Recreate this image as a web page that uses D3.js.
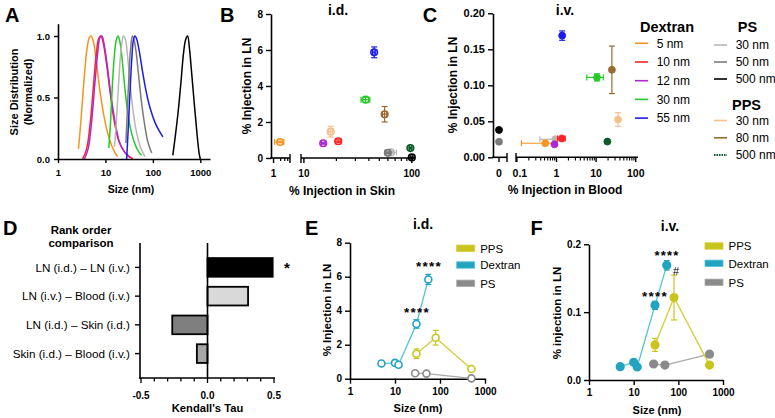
<!DOCTYPE html>
<html><head><meta charset="utf-8">
<script src="https://cdn.jsdelivr.net/npm/d3@7"></script>
<style>
body{margin:0;background:#fff;}
svg{font-family:"Liberation Sans",Arial,Helvetica,sans-serif;}
</style></head><body>
<svg id="chart" width="775" height="418"></svg>
<script>
// ================= DATA =================
// Panel A: size distributions (normalized)
const distNames = ["Dextran 5 nm","Dextran 10 nm","Dextran 12 nm","Dextran 30 nm","PS 30 nm","PS 50 nm","Dextran 55 nm","PS 500 nm"];
const distSizes = [
  [2.7,3.1,3.6,4.1,4.6,5.0,5.6,6.4,7.5,9,11,13.5,16,18],
  [3.3,4,4.8,5.6,6.4,7.2,8,9,10.5,12.5,15,19,25,32,38],
  [3.6,4.3,5.1,6,6.9,7.7,8.4,9.4,11,13,16,20,26,33],
  [11.8,12.8,14,15.5,17,18.5,20,22,25,29,35,43,52,58],
  [15.5,17,19,21.5,24,26.5,29,33,38,45,54,62,68],
  [27,29,31.5,34,37,40,44,50,58,67,77,88,95],
  [28,30,33,36,39,42,46,52,60,72,88,110,135,163],
  [263,300,340,390,440,490,540,590,650,720,800,880,950,1000]
];
const distValues = [
  [0.08,0.35,0.68,0.9,0.99,1.0,0.95,0.8,0.58,0.38,0.22,0.11,0.05,0.02],
  [0,0.08,0.3,0.6,0.85,0.98,1.0,0.94,0.78,0.55,0.33,0.15,0.06,0.02,0],
  [0,0.08,0.3,0.62,0.87,0.99,1.0,0.93,0.75,0.52,0.3,0.13,0.05,0.01],
  [0.09,0.3,0.6,0.85,0.97,1.0,0.96,0.85,0.62,0.4,0.22,0.11,0.05,0.03],
  [0.1,0.3,0.62,0.9,1.0,0.97,0.85,0.62,0.4,0.22,0.1,0.05,0.02],
  [0.13,0.4,0.7,0.9,1.0,0.97,0.88,0.68,0.45,0.28,0.15,0.08,0.05],
  [0,0.22,0.55,0.82,0.97,1.0,0.97,0.87,0.72,0.55,0.41,0.3,0.23,0.18],
  [0.03,0.2,0.38,0.62,0.85,0.97,1.0,0.9,0.72,0.52,0.32,0.15,0.04,0]
];
const sizeTicks = [1,10,100,1000];
const distTicks = [0,0.5,1.0];

// Panels B & C: series (order: Dextran 5,10,12,30,55 | PS 30,50,500 | PPS 30,80,500)
const seriesNames = ["Dextran 5 nm","Dextran 10 nm","Dextran 12 nm","Dextran 30 nm","Dextran 55 nm",
                     "PS 30 nm","PS 50 nm","PS 500 nm","PPS 30 nm","PPS 80 nm","PPS 500 nm"];
const skinID    = [1.9, 20.8, 15.1, 37.3, 44.8, 64, 60, 100, 17.7, 56, 97];
const skinIDErr = [0.8, 1.2, 0.6, 3.5, 1.5, 8, 2, 2, 0.8, 2.5, 2];
const lnID      = [0.89, 0.93, 0.82, 3.24, 5.87, 0.31, 0.29, 0.03, 1.46, 2.43, 0.55];
const lnIDErr   = [0.05, 0.08, 0.05, 0.15, 0.3, 0.05, 0.04, 0.02, 0.3, 0.43, 0.05];
const bloodIV    = [0.52, 1.36, 0.89, 10.5, 1.39, 0.93, 0, 0, 35.7, 25, 19.2];
const bloodIVErr = [0.39, 0.3, 0.05, 4.7, 0.12, 0.55, 0, 0, 1.5, 1.5, 1];
const lnIV      = [0.0195, 0.0262, 0.0180, 0.111, 0.169, 0.0250, 0.0217, 0.0380, 0.0525, 0.1215, 0.0218];
const lnIVErr   = [0.001, 0.002, 0.001, 0.005, 0.0065, 0.002, 0.001, 0.002, 0.0095, 0.033, 0.001];
const lnIDTicks = [0,2,4,6,8];
const lnIVTicks = [0,0.05,0.10,0.15,0.20];
const legendGroups = ["Dextran","PS","PPS"];
const legendDextran = ["5 nm","10 nm","12 nm","30 nm","55 nm"];
const legendPS = ["30 nm","50 nm","500 nm"];
const legendPPS = ["30 nm","80 nm","500 nm"];

// Panel D: Kendall's tau
const comparisons = ["LN (i.d.) \u2013 LN (i.v.)","LN (i.v.) \u2013 Blood (i.v.)","LN (i.d.) \u2013 Skin (i.d.)","Skin (i.d.) \u2013 Blood (i.v.)"];
const kendallTau = [0.49, 0.305, -0.265, -0.08];
const tauTicks = [-0.5,0,0.5];

// Panels E & F
const materials = ["PPS","Dextran","PS"];
const sizeDex = [5,10,12,30,55];
const sizePPS = [30,80,500];
const sizePS  = [28,50,500];
const lnIDdex = [0.89,0.93,0.82,3.22,5.84]; const errIDdex = [0.05,0.06,0.06,0.25,0.3];
const lnIDpps = [1.47,2.41,0.57];           const errIDpps = [0.28,0.43,0.06];
const lnIDps  = [0.32,0.30,0.02];           const errIDps  = [0.03,0.03,0.01];
const lnIVdex = [0.0197,0.026,0.0192,0.110,0.169]; const errIVdex = [0.001,0.0015,0.001,0.006,0.007];
const lnIVpps = [0.0517,0.1215,0.022];             const errIVpps = [0.0096,0.033,0.0015];
const lnIVps  = [0.0236,0.022,0.038];              const errIVps  = [0.0012,0.001,0.004];
const lnIVTicksF = [0,0.1,0.2];

// ================= STYLES =================
const FONT = '"Liberation Sans", Arial, Helvetica, sans-serif';
const distColors = ["#f7941e","#ff2424","#b026d0","#26c926","#b8b8b8","#7a7a7a","#1c1ce8","#000000"];
const seriesColors = ["#f7941e","#ff2424","#b026d0","#26c926","#1c1ce8","#b8b8b8","#7a7a7a","#000000","#f6c08c","#9a6a30","#0c5a2a"];
const matColors = {PPS:"#c9c41e", Dextran:"#22a3bf", PS:"#8a8a8a"};
const matLine   = {PPS:"#d2cd34", Dextran:"#54c3d9", PS:"#aaaaaa"};
const tauColors = ["#000000","#d9d9d9","#7f7f7f","#a6a6a6"];

const svg = d3.select("#chart");

function addText(x,y,s,size,bold,anchor,rot,fill){
  const t = svg.append("text").attr("x",x).attr("y",y).text(s)
    .attr("font-size",size).attr("font-weight",bold?"bold":"normal")
    .attr("text-anchor",anchor||"start").attr("fill",fill||"#000");
  if(rot) t.attr("transform",`rotate(-90,${x},${y})`);
  return t;
}
function styleAxis(g,size){
  g.attr("font-family",FONT);
  g.select(".domain").attr("stroke","#000").attr("stroke-width",1.6);
  g.selectAll(".tick line").attr("stroke","#000").attr("stroke-width",1.4);
  g.selectAll(".tick text").attr("font-size",size).attr("font-weight","bold").attr("fill","#000");
}
function line(g,x1,y1,x2,y2,color,w,dash){
  const l = g.append("line").attr("x1",x1).attr("y1",y1).attr("x2",x2).attr("y2",y2)
    .attr("stroke",color).attr("stroke-width",w);
  if(dash) l.attr("stroke-dasharray",dash);
  return l;
}
function errY(g,x,y1,y2,color,cap){
  cap = cap||3;
  line(g,x,y1,x,y2,color,1.2); line(g,x-cap,y1,x+cap,y1,color,1.2); line(g,x-cap,y2,x+cap,y2,color,1.2);
}
function errX(g,y,x1,x2,color,cap){
  cap = cap||3;
  line(g,x1,y,x2,y,color,1.2); line(g,x1,y-cap,x1,y+cap,color,1.2); line(g,x2,y-cap,x2,y+cap,color,1.2);
}

// ================= PANEL A =================
{
  const g = svg.append("g");
  const x = d3.scaleLog().domain([1,1600]).range([58,210]);
  const y = d3.scaleLinear().domain([0,1.1]).range([159,23.7]);
  const ln = d3.line().x(d=>x(d[0])).y(d=>y(d[1])).curve(d3.curveCatmullRom.alpha(0.5));
  distSizes.forEach((s,i)=>{
    g.append("path").attr("d",ln(s.map((v,j)=>[v,distValues[i][j]])))
      .attr("fill","none").attr("stroke",distColors[i]).attr("stroke-width",1.5);
  });
  const ax = g.append("g").attr("transform","translate(0,159)")
    .call(d3.axisBottom(x).tickValues(sizeTicks).tickFormat(d3.format("d")).tickSizeInner(4).tickSizeOuter(0).tickPadding(6));
  styleAxis(ax,9.5);
  const ay = g.append("g").attr("transform","translate(58,0)")
    .call(d3.axisLeft(y).tickValues(distTicks).tickFormat(d3.format(".1f")).tickSizeInner(4).tickSizeOuter(0).tickPadding(4));
  styleAxis(ay,9.5);
  addText(131,193,"Size (nm)",10.5,true,"middle");
  addText(18,92,"Size Distribution",11,true,"middle",true);
  addText(32,92,"(Normalized)",11,true,"middle",true);
  addText(5,22,"A",20,true);
}

// ================= PANEL B =================
{
  const g = svg.append("g");
  const y = d3.scaleLinear().domain([0,8]).range([158,14]);
  const x1 = d3.scaleLog().domain([0.78,5]).range([271,290]);
  const x2 = d3.scaleLog().domain([9.4,107]).range([301,415]);
  const xp = v => v < 6 ? x1(v) : x2(v);
  const ay = g.append("g").attr("transform","translate(271,0)")
    .call(d3.axisLeft(y).tickValues(lnIDTicks).tickSizeInner(5).tickSizeOuter(0).tickPadding(3));
  styleAxis(ay,10);
  // broken x axis
  line(g,270.2,158,290,158,"#000",1.6);
  line(g,301,158,415,158,"#000",1.6);
  line(g,290,154,290,163,"#000",1.4);
  line(g,301,154,301,163,"#000",1.4);
  [1].forEach(v=>line(g,x1(v),158,x1(v),163,"#000",1.4));
  [2,3,4].forEach(v=>line(g,x1(v),158,x1(v),161,"#000",1.2));
  [10,100].forEach(v=>line(g,x2(v),158,x2(v),163,"#000",1.4));
  [20,30,40,50,60,70,80,90].forEach(v=>line(g,x2(v),158,x2(v),161,"#000",1.2));
  addText(x1(1),177,"1",10,true,"middle");
  addText(x2(10),177,"10",10,true,"middle");
  addText(x2(100),177,"100",10,true,"middle");
  // points
  seriesNames.forEach((n,i)=>{
    const cx = xp(skinID[i]), cy = y(lnID[i]), c = seriesColors[i];
    errY(g,cx,y(lnID[i]+lnIDErr[i]),y(lnID[i]-lnIDErr[i]),c,3);
    errX(g,cy,xp(skinID[i]-skinIDErr[i]),xp(skinID[i]+skinIDErr[i]),c,3);
    g.append("circle").attr("cx",cx).attr("cy",cy).attr("r",3.3)
      .attr("fill","none").attr("stroke",c).attr("stroke-width",1.6);
  });
  addText(251,86,"% Injection in LN",12,true,"middle",true);
  addText(342,195,"% Injection in Skin",12,true,"middle");
  addText(338,15,"i.d.",14,true,"middle");
  addText(220,22,"B",20,true);
}

// ================= PANEL C =================
{
  const g = svg.append("g");
  const y = d3.scaleLinear().domain([0,0.2]).range([157.3,13.3]);
  const x0 = 499;
  const x2 = d3.scaleLog().domain([0.095,114]).range([516,638]);
  const xp = v => v === 0 ? x0 : x2(v);
  const ay = g.append("g").attr("transform","translate(493,0)")
    .call(d3.axisLeft(y).tickValues(lnIVTicks).tickFormat(d3.format(".2f")).tickSizeInner(5).tickSizeOuter(0).tickPadding(3));
  styleAxis(ay,11);
  line(g,492.2,157.3,507,157.3,"#000",1.6);
  line(g,516,157.3,638,157.3,"#000",1.6);
  line(g,507,153,507,162,"#000",1.4);
  line(g,516,153,516,162,"#000",1.4);
  line(g,x0,157.3,x0,162,"#000",1.4);
  [0.1,1,10,100].forEach(v=>line(g,x2(v),157.3,x2(v),162,"#000",1.4));
  const minors = [];
  [0.1,1,10].forEach(d=>{for(let k=2;k<=9;k++) minors.push(d*k);});
  minors.forEach(v=>line(g,x2(v),157.3,x2(v),160.5,"#000",1.1));
  addText(x0,177,"0",10.5,true,"middle");
  addText(x2(0.1)+3,177,"0.1",10.5,true,"middle");
  addText(x2(1),177,"1",10.5,true,"middle");
  addText(x2(10),177,"10",10.5,true,"middle");
  addText(x2(100),177,"100",10.5,true,"middle");
  const order = [5,6,7,0,1,2,3,4,8,9,10];
  order.forEach(i=>{
    const cx = xp(bloodIV[i]), cy = y(lnIV[i]), c = seriesColors[i];
    if(bloodIVErr[i]>0) errX(g,cy,xp(Math.max(bloodIV[i]-bloodIVErr[i],0.1)),xp(bloodIV[i]+bloodIVErr[i]),c,3);
    errY(g,cx,y(lnIV[i]+lnIVErr[i]),y(lnIV[i]-lnIVErr[i]),c,3);
    g.append("circle").attr("cx",cx).attr("cy",cy).attr("r",3.5).attr("fill",c).attr("stroke",c).attr("stroke-width",0.8);
  });
  addText(457,85,"% Injection in LN",12,true,"middle",true);
  addText(565,194,"% Injection in Blood",12,true,"middle");
  addText(565,15,"i.v.",14,true,"middle");
  addText(430,22,"C",20,true,"middle");

  // Legend
  addText(640,32,legendGroups[0],14.5,true,"start");
  legendDextran.forEach((t,i)=>{
    const yy = 43.3 + i*18.7;
    line(g,635,yy,648,yy,seriesColors[i],1.6);
    addText(656.7,yy+4.3,t,12,false,"start");
  });
  addText(747.5,32,legendGroups[1],14.5,true,"middle");
  legendPS.forEach((t,i)=>{
    const yy = 45 + i*17;
    line(g,714,yy,727,yy,seriesColors[5+i],1.6);
    addText(735.7,yy+4.3,t,12,false,"start");
  });
  addText(746.5,110,legendGroups[2],14.5,true,"middle");
  legendPPS.forEach((t,i)=>{
    const yy = 120.5 + i*17.3;
    line(g,714,yy,727,yy,seriesColors[8+i],i===2?2:1.6,i===2?"1.5,1":null);
    addText(735.7,yy+4.3,t,12,false,"start");
  });
}

// ================= PANEL D =================
{
  const g = svg.append("g");
  const x = d3.scaleLinear().domain([-0.5,0.5]).range([141,274]);
  const y = d3.scaleBand().domain(comparisons).range([248,373]).padding(0.35);
  comparisons.forEach((c,i)=>{
    const v = kendallTau[i];
    g.append("rect").attr("x",Math.min(x(0),x(v))).attr("y",y(c))
      .attr("width",Math.abs(x(v)-x(0))).attr("height",y.bandwidth())
      .attr("fill",tauColors[i]).attr("stroke","#000").attr("stroke-width",1.8);
  });
  // axes
  line(g,140,243,140,378.8,"#000",1.6);
  line(g,139.2,378,275,378,"#000",1.6);
  line(g,x(0),243,x(0),378,"#000",1.6);
  comparisons.forEach(c=>{
    const cy = y(c)+y.bandwidth()/2;
    line(g,135,cy,140,cy,"#000",1.4);
    addText(130,cy+4.2,c,11.7,false,"end");
  });
  d3.range(-5,6).forEach(k=>{
    const v = k/10;
    const major = k%5===0;
    line(g,x(v),378,x(v),378+(major?5:3.5),"#000",1.3);
  });
  tauTicks.forEach(v=>addText(x(v),399,d3.format(".1f")(v).replace("\u2212","-"),10,true,"middle"));
  addText(207.5,412,"Kendall's Tau",11.2,true,"middle");
  addText(81,234,"Rank order",11.5,true,"middle");
  addText(81,247,"comparison",11.5,true,"middle");
  addText(287,273,"*",15,true,"middle");
  addText(3,235,"D",20,true);
}

// ================= PANELS E & F =================
function sizePanel(opt){
  const g = svg.append("g");
  const x = d3.scaleLog().domain([1,1000]).range([opt.x0,opt.x1]);
  const y = d3.scaleLinear().domain([0,opt.ymax]).range([opt.y0,opt.y1]);
  const ax = g.append("g").attr("transform",`translate(0,${opt.y0})`)
    .call(d3.axisBottom(x).tickValues(sizeTicks).tickFormat(d3.format("d")).tickSizeInner(5).tickSizeOuter(0).tickPadding(4));
  styleAxis(ax,10);
  const ay = g.append("g").attr("transform",`translate(${opt.x0},0)`)
    .call(d3.axisLeft(y).tickValues(opt.ticks).tickFormat(opt.fmt).tickSizeInner(5).tickSizeOuter(0).tickPadding(3));
  styleAxis(ay,10);
  const sets = [
    {m:"PS", s:sizePS, v:opt.ps, e:opt.psErr},
    {m:"PPS", s:sizePPS, v:opt.pps, e:opt.ppsErr},
    {m:"Dextran", s:sizeDex, v:opt.dex, e:opt.dexErr}
  ];
  const ln = d3.line().x(d=>x(d[0])).y(d=>y(d[1]));
  sets.forEach(st=>{
    g.append("path").attr("d",ln(st.s.map((s,j)=>[s,st.v[j]])))
      .attr("fill","none").attr("stroke",matLine[st.m]).attr("stroke-width",1.3);
  });
  sets.forEach(st=>{
    st.s.forEach((s,j)=>{
      const cx = x(s), cy = y(st.v[j]);
      errY(g,cx,y(st.v[j]+st.e[j]),y(Math.max(st.v[j]-st.e[j],0)),matColors[st.m],3);
      g.append("circle").attr("cx",cx).attr("cy",cy).attr("r",opt.filled?3.8:3.5)
        .attr("fill",opt.filled?matColors[st.m]:"#fff").attr("stroke",matColors[st.m]).attr("stroke-width",1.6);
    });
  });
  // legend
  materials.forEach((m,i)=>{
    const yy = opt.legY[i];
    g.append("rect").attr("x",opt.legX).attr("y",yy-3.2).attr("width",18).attr("height",6.4)
      .attr("fill",matColors[m]).attr("stroke",matLine[m]).attr("stroke-width",0.8);
    addText(opt.legX+23.5,yy+4.2,m,11.5,false,"start");
  });
  return {x,y};
}
{
  sizePanel({x0:350,x1:485,y0:378.7,y1:242.7,ymax:8,ticks:lnIDTicks,fmt:d3.format("d"),
    dex:lnIDdex,dexErr:errIDdex,pps:lnIDpps,ppsErr:errIDpps,ps:lnIDps,psErr:errIDps,filled:false,
    legX:456.7,legY:[248.3,265,283.3]});
  addText(331,310,"% Injection in LN",11.5,true,"middle",true);
  addText(418,412,"Size (nm)",11,true,"middle");
  addText(423,229,"i.d.",14,true,"middle");
  addText(311.7,235,"E",20,true,"middle");
  addText(429,271,"****",13.5,true,"middle").attr("letter-spacing",1.2);
  addText(417,317,"****",13.5,true,"middle").attr("letter-spacing",1.2);

  sizePanel({x0:589,x1:723,y0:380,y1:244.3,ymax:0.2,ticks:lnIVTicksF,fmt:d3.format(".1f"),
    dex:lnIVdex,dexErr:errIVdex,pps:lnIVpps,ppsErr:errIVpps,ps:lnIVps,psErr:errIVps,filled:true,
    legX:705,legY:[246,263.3,282.3]});
  addText(561,313,"% injection in LN",11.5,true,"middle",true);
  addText(657,414,"Size (nm)",11,true,"middle");
  addText(670,231,"i.v.",14,true,"middle");
  addText(536.7,235,"F",20,true,"middle");
  addText(667,259.5,"****",13,true,"middle").attr("letter-spacing",1.2);
  addText(655,301,"****",13.5,true,"middle").attr("letter-spacing",1.2);
  addText(676,275,"#",11,false,"middle");
}
</script>
</body></html>
